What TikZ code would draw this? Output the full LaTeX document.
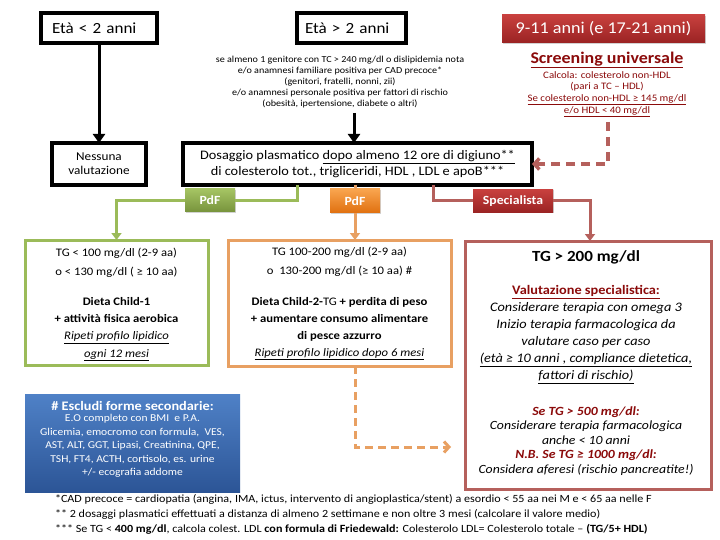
\documentclass[tikz,border=0pt]{standalone}
\usepackage{fontspec}
\setmainfont{Carlito}[FakeStretch=1.1]
\usetikzlibrary{arrows.meta,shadows,calc}
\definecolor{grnB}{HTML}{9BBB59}
\definecolor{grnT}{HTML}{A5C463}
\definecolor{grnD}{HTML}{77933C}
\definecolor{orgB}{HTML}{E8A062}
\definecolor{orgT}{HTML}{F9A54F}
\definecolor{orgD}{HTML}{E0700F}
\definecolor{redB}{HTML}{B5605C}
\definecolor{redT}{HTML}{C8403E}
\definecolor{redD}{HTML}{9A2323}
\definecolor{dred}{HTML}{8B0A0A}
\definecolor{bluT}{HTML}{4F81C7}
\definecolor{bluD}{HTML}{2C5596}
\tikzset{
  blackbox/.style={draw=black, line width=3.5pt, fill=white, align=center},
  tag/.style={align=center, text=white, font=\fontsize{12.5}{14}\selectfont\bfseries,
     drop shadow={shadow xshift=1pt, shadow yshift=-1pt, opacity=0.35}},
  blkarrow/.style={draw=black, line width=3pt, -{Triangle[length=9pt,width=12pt]}},
  gline/.style={draw=grnB, line width=3pt},
  oline/.style={draw=orgB, line width=3pt},
  rline/.style={draw=redB, line width=3pt},
  ctip/.style={-{Triangle[length=7pt,width=10pt]}},
  dashtip/.style={-{Straight Barb[length=5pt,width=11pt]}},
  txt/.style={align=center},
}
\begin{document}
\begin{tikzpicture}[x=1pt,y=-1pt, every node/.style={inner sep=0pt, outer sep=0pt}]
\useasboundingbox[fill=white] (0,0) rectangle (720,540);

% top row
\node[blackbox, minimum width=116, minimum height=30, text width=94, inner xsep=11, align=left,
      font=\fontsize{15.5}{18}\selectfont] (e1) at (99,28) {Età < 2 anni};
\node[blackbox, minimum width=109, minimum height=30, text width=93, inner xsep=8, align=left,
      font=\fontsize{15.5}{18}\selectfont] (e2) at (351.5,28) {Età > 2 anni};
\node[tag, minimum width=203, minimum height=28, top color=redT, bottom color=redD,
      font=\fontsize{16.5}{18}\selectfont] (r1) at (603.5,29) {9-11 anni (e 17-21 anni)};

\node[txt, font=\fontsize{9.2}{11}\selectfont] (crit) at (340,82)
 {se almeno 1 genitore con TC > 240 mg/dl o dislipidemia nota\\
  e/o anamnesi familiare positiva per CAD precoce*\\
  (genitori, fratelli, nonni, zii)\\
  e/o anamnesi personale positiva per fattori di rischio\\
  (obesità, ipertensione, diabete o altri)};

\node[txt, text=dred, font=\fontsize{16.3}{18}\selectfont\bfseries] (scr) at (607,60)
 {\underline{Screening universale}};
\node[txt, text=dred, font=\fontsize{9.9}{11.7}\selectfont] (calc) at (607,94)
 {Calcola: colesterolo non-HDL\\
  (pari a TC – HDL)\\
  \underline{Se colesterolo non-HDL ≥ 145 mg/dl}\\
  \underline{e/o HDL < 40 mg/dl}};

% second row
\node[blackbox, minimum width=94, minimum height=42, font=\fontsize{12}{14}\selectfont]
  (nes) at (99,164) {Nessuna\\valutazione};
\node[blackbox, minimum width=349, minimum height=42, font=\fontsize{13}{16}\selectfont]
  (dos) at (357.5,164)
  {Dosaggio plasmatico \underline{dopo almeno 12 ore di digiuno**}\\
   di colesterolo tot., trigliceridi, HDL , LDL e apoB***};

\draw[blkarrow] (e1.south) -- (nes.north);
\coordinate (a1) at (354,113);
\draw[blkarrow] (a1) -- (a1 |- dos.north);
\coordinate (rd) at (608,122);
\draw[draw=redB, line width=3.5pt, dash pattern=on 9pt off 6pt, dashtip] (rd) |- (dos.east);

% tags
\node[tag, minimum width=50, minimum height=23, top color=grnT, bottom color=grnD] (pg) at (210,200.5) {PdF};
\node[tag, minimum width=50, minimum height=24, top color=orgT, bottom color=orgD] (po) at (355,201) {PdF};
\node[tag, minimum width=80, minimum height=23, top color=redT, bottom color=redD] (sp) at (513,201) {Specialista};

% result boxes
\node[draw=grnB, line width=3pt, minimum width=183, minimum height=125] (tgA) at (116.5,302.5) {};
\node[draw=orgB, line width=3pt, minimum width=223, minimum height=126] (tgB) at (339.5,303) {};
\node[draw=redB, line width=3pt, minimum width=246, minimum height=248] (tgC) at (588,365) {};

% connectors
\coordinate (gx) at (297,200);
\draw[gline] (gx |- dos.south) |- (pg.east);
\draw[gline, ctip] (pg.west) -| (tgA.north);
\draw[oline] (po.north |- dos.south) -- (po.north);
\draw[oline, ctip] (po.south) -- (po.south |- tgB.north);
\coordinate (sx) at (433,200);
\draw[rline] (sx |- dos.south) |- (sp.west);
\coordinate (sy) at (590,200);
\draw[rline, ctip] (sp.east) -| (sy |- tgC.north);

% texts in green box
\node[txt, font=\fontsize{11.5}{19}\selectfont] (tA1) at (116.5,262.5)
 {TG < 100 mg/dl (2-9 aa)\\o < 130 mg/dl ( ≥ 10 aa)};
\node[txt, font=\fontsize{11.5}{17.3}\selectfont] (tA2) at (116.5,329)
 {\textbf{Dieta Child-1}\\\textbf{+ attività fisica aerobica}\\
  \textit{\underline{Ripeti profilo lipidico}}\\\textit{\underline{ogni 12 mesi}}};

% texts in orange box
\node[txt, font=\fontsize{11.5}{18.5}\selectfont] (tB1) at (339.5,262)
 {TG 100-200 mg/dl (2-9 aa)\\o\ \ 130-200 mg/dl (≥ 10 aa) \#};
\node[txt, font=\fontsize{11.5}{17}\selectfont] (tB2) at (339.5,328.5)
 {\textbf{Dieta Child-2-}TG \textbf{+ perdita di peso}\\
  \textbf{+ aumentare consumo alimentare}\\
  \textbf{di pesce azzurro}\\
  \textit{\underline{Ripeti profilo lipidico dopo 6 mesi}}};

% texts in red box
\node[txt, font=\fontsize{15.5}{18}\selectfont\bfseries] (tC1) at (586,257) {TG > 200 mg/dl};
\node[txt, font=\fontsize{13}{17}\selectfont\itshape] (tC2) at (586,334.5)
 {{\upshape\bfseries\color{dred}\underline{Valutazione specialistica:}}\\
  Considerare terapia con omega 3\\
  Inizio terapia farmacologica da\\
  valutare caso per caso\\
  \underline{(età ≥ 10 anni , compliance dietetica,}\\
  \underline{fattori di rischio)}};
\node[txt, font=\fontsize{12.5}{14.5}\selectfont\itshape] (tC3) at (586,441)
 {{\bfseries\color{dred}Se TG > 500 mg/dl:}\\
  Considerare terapia farmacologica\\
  anche < 10 anni\\
  {\bfseries\color{dred}N.B. Se TG ≥ 1000 mg/dl:}\\
  Considera aferesi (rischio pancreatite!)};

% blue box
\node[minimum width=215, minimum height=98, top color=bluT, bottom color=bluD] (blu) at (132.5,443) {};
\node[txt, text=white, font=\fontsize{13}{14}\selectfont\bfseries] (bl1) at (132.5,406) {\# Escludi forme secondarie:};
\node[txt, text=white, font=\fontsize{10.5}{13.5}\selectfont] (bl2) at (132.5,446)
 {E.O completo con BMI\ \ e P.A.\\
  Glicemia, emocromo con formula,\ \ VES,\\
  AST, ALT, GGT, Lipasi, Creatinina, QPE,\\
  TSH, FT4, ACTH, cortisolo, es. urine\\
  +/- ecografia addome};

% orange dashed
\coordinate (ot) at (451,447);
\draw[draw=orgB, line width=3pt, dash pattern=on 8pt off 5pt, dashtip] (tgB.south -| po.south) |- (ot);

% footnotes
\node[anchor=north west, align=left, font=\fontsize{11}{15}\selectfont] (fn) at (55,494)
 {*CAD precoce = cardiopatia (angina, IMA, ictus, intervento di angioplastica/stent) a esordio < 55 aa nei M e < 65 aa nelle F\\
  ** 2 dosaggi plasmatici effettuati a distanza di almeno 2 settimane e non oltre 3 mesi (calcolare il valore medio)\\
  *** Se TG < \textbf{400 mg/dl}, calcola colest. LDL \textbf{con formula di Friedewald:} Colesterolo LDL= Colesterolo totale – \textbf{(TG/5+ HDL)}};
\end{tikzpicture}
\end{document}
